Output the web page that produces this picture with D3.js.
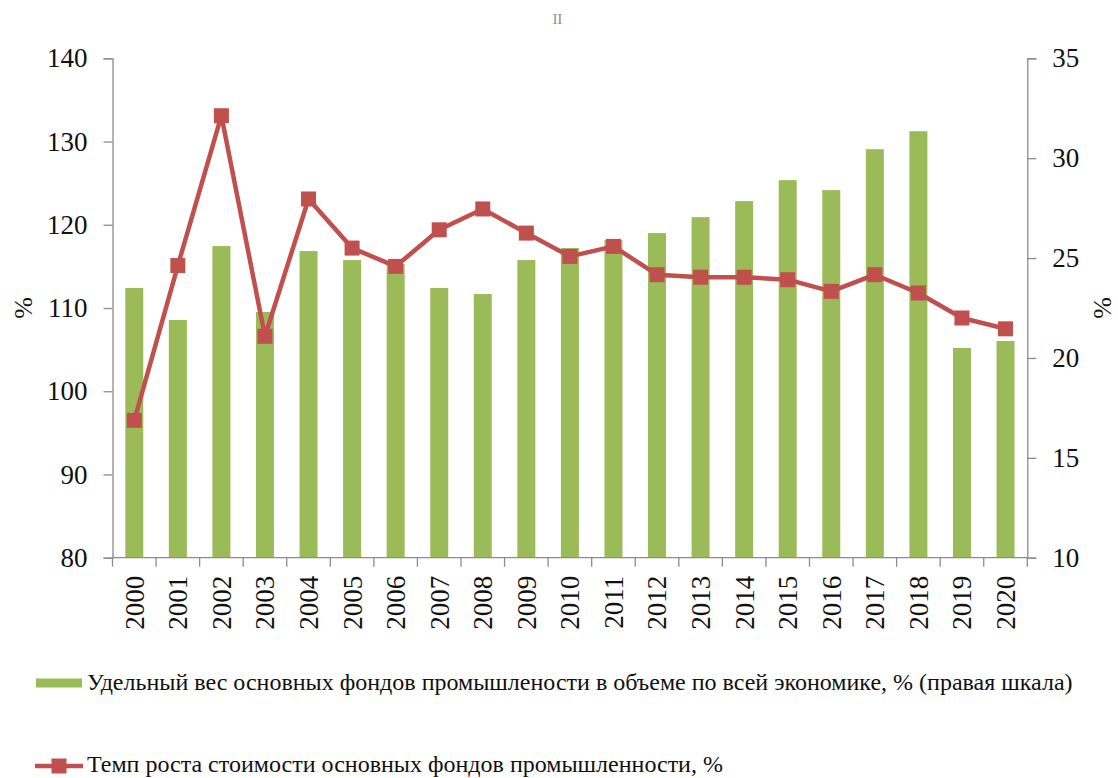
<!DOCTYPE html>
<html>
<head>
<meta charset="utf-8">
<script src="https://cdn.jsdelivr.net/npm/d3@7"></script>
<style>
  html, body { margin: 0; padding: 0; background: #fff; }
  svg { display: block; }
  text { font-family: "Liberation Serif", "Times New Roman", serif; fill: #111; }
</style>
</head>
<body>
<svg id="chart" width="1118" height="778"></svg>
<script>
// ---- data ----
const years = ["2000","2001","2002","2003","2004","2005","2006","2007","2008","2009","2010",
               "2011","2012","2013","2014","2015","2016","2017","2018","2019","2020"];
// share of industry fixed assets in the whole economy, % (right scale)
const shareValues = [23.5, 21.9, 25.6, 22.3, 25.35, 24.9, 24.7, 23.5, 23.2, 24.9, 25.5,
                     25.9, 26.25, 27.05, 27.85, 28.9, 28.4, 30.45, 31.35, 20.5, 20.85];
// growth rate of the value of industry fixed assets, % (left scale)
const growthValues = [96.5, 115.1, 133.1, 106.6, 123.1, 117.2, 115.0, 119.4, 121.9, 119.0, 116.2,
                      117.4, 114.0, 113.7, 113.7, 113.4, 112.0, 114.0, 111.8, 108.8, 107.5];
const leftTicks = [80, 90, 100, 110, 120, 130, 140];
const rightTicks = [10, 15, 20, 25, 30, 35];
const legendLabels = [
  "Удельный вес основных фондов промышлености в объеме по всей экономике, % (правая шкала)",
  "Темп роста стоимости основных фондов промышленности, %"
];
const axisTitle = "%";

// ---- layout ----
const svg = d3.select("#chart");
const plot = { left: 112.5, right: 1027.3, top: 58.3, bottom: 557.7 };
const green = "#9BBB59", red = "#C0504D", axisColor = "#8c8c8c";

const x = d3.scaleBand().domain(years).range([plot.left, plot.right]).padding(0);
const yL = d3.scaleLinear().domain([80, 140]).range([plot.bottom, plot.top]);
const yR = d3.scaleLinear().domain([10, 35]).range([plot.bottom, plot.top]);
const barW = 18;

// bars (right scale)
svg.append("g").selectAll("rect").data(years).join("rect")
  .attr("x", (d) => x(d) + x.bandwidth() / 2 - barW / 2)
  .attr("width", barW)
  .attr("y", (d, i) => yR(shareValues[i]))
  .attr("height", (d, i) => yR(10) - yR(shareValues[i]))
  .attr("fill", green);

// line (left scale)
const line = d3.line()
  .x((d, i) => x(years[i]) + x.bandwidth() / 2)
  .y((d) => yL(d));
svg.append("path").datum(growthValues)
  .attr("d", line).attr("fill", "none")
  .attr("stroke", red).attr("stroke-width", 4.5).attr("stroke-linejoin", "round");
const mk = 15;
svg.append("g").selectAll("rect").data(growthValues).join("rect")
  .attr("x", (d, i) => x(years[i]) + x.bandwidth() / 2 - mk / 2)
  .attr("y", (d) => yL(d) - mk / 2)
  .attr("width", mk).attr("height", mk).attr("fill", red);

// left axis
const gL = svg.append("g").attr("transform", `translate(${plot.left},0)`)
  .call(d3.axisLeft(yL).tickValues(leftTicks).tickSize(9).tickPadding(16));
// right axis
const gR = svg.append("g").attr("transform", `translate(${plot.right},0)`)
  .call(d3.axisRight(yR).tickValues(rightTicks).tickSize(9).tickPadding(16));
[gL, gR].forEach(g => {
  g.selectAll("path.domain").attr("stroke", axisColor).attr("stroke-width", 1.3);
  g.selectAll(".tick line").attr("stroke", axisColor).attr("stroke-width", 1.3);
  g.selectAll(".tick text").attr("font-size", 27).attr("fill", "#111");
});

// bottom axis: domain line, boundary ticks, rotated year labels
const gB = svg.append("g");
gB.append("line")
  .attr("x1", plot.left).attr("x2", plot.right)
  .attr("y1", plot.bottom).attr("y2", plot.bottom)
  .attr("stroke", axisColor).attr("stroke-width", 1.3);
const bounds = years.map(d => x(d)).concat([x.range()[1]]);
gB.selectAll("line.tk").data(bounds).join("line").attr("class", "tk")
  .attr("x1", d => d).attr("x2", d => d)
  .attr("y1", plot.bottom).attr("y2", plot.bottom + 9)
  .attr("stroke", axisColor).attr("stroke-width", 1.3);
gB.selectAll("text").data(years).join("text")
  .attr("transform", d => `translate(${x(d) + x.bandwidth() / 2},${plot.bottom + 18}) rotate(-90)`)
  .attr("text-anchor", "end").attr("dy", "0.35em")
  .attr("font-size", 27)
  .text(d => d);

// axis titles
svg.append("text").attr("transform", "translate(23,308) rotate(-90)")
  .attr("text-anchor", "middle").attr("dy", "0.35em").attr("font-size", 26).text(axisTitle);
svg.append("text").attr("transform", "translate(1102,308) rotate(-90)")
  .attr("text-anchor", "middle").attr("dy", "0.35em").attr("font-size", 26).text(axisTitle);

// small mark at top
svg.append("text").attr("x", 557.5).attr("y", 24).attr("text-anchor", "middle")
  .attr("font-size", 14).style("fill", "#888").text("II");

// legend
const lg = svg.append("g");
lg.append("rect").attr("x", 36).attr("y", 678.5).attr("width", 46).attr("height", 9).attr("fill", green);
lg.append("text").attr("x", 87).attr("y", 690).attr("font-size", 24).text(legendLabels[0]);
lg.append("line").attr("x1", 35).attr("x2", 83).attr("y1", 766).attr("y2", 766)
  .attr("stroke", red).attr("stroke-width", 4.5);
lg.append("rect").attr("x", 59 - mk / 2).attr("y", 766 - mk / 2).attr("width", mk).attr("height", mk).attr("fill", red);
lg.append("text").attr("x", 87).attr("y", 772).attr("font-size", 24).text(legendLabels[1]);
</script>
</body>
</html>
